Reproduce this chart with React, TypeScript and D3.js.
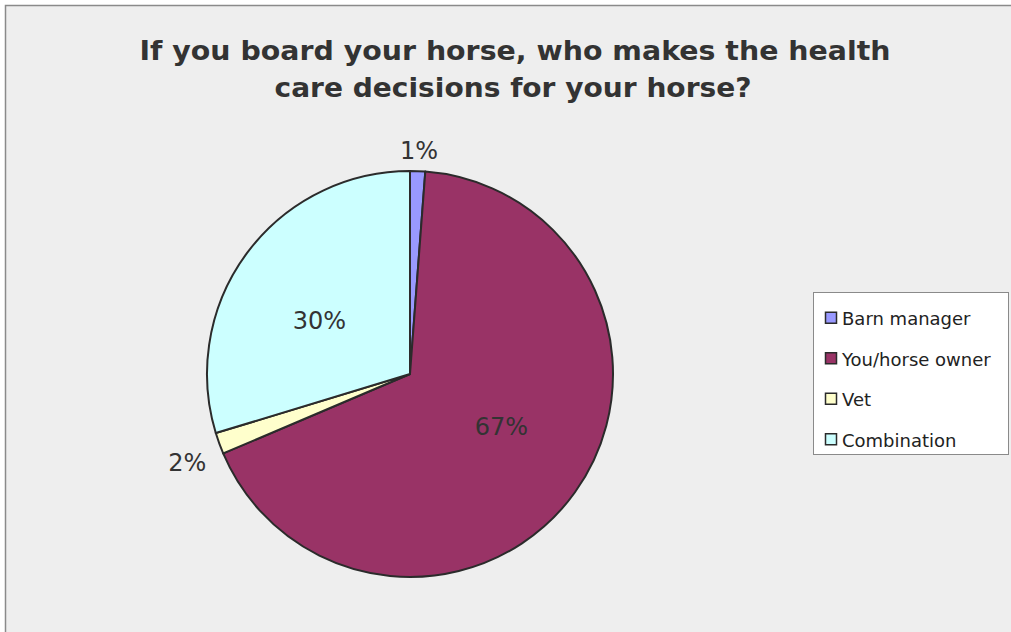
import React from "react";
import * as d3 from "d3";

const titleLines = ["If you board your horse, who makes the health", "care decisions for your horse?"];
const categories = ["Barn manager", "You/horse owner", "Vet", "Combination"];
const values = [1.2, 67.4, 1.7, 29.7];
const valueLabels = ["1%", "67%", "2%", "30%"];
const colors = ["#9999FF", "#993366", "#FFFFCC", "#CCFFFF"];

const W = 1011;
const H = 632;
const cx = 410;
const cy = 374;
const R = 203;

export default function App() {
  const pie = d3.pie<number>().sort(null).value((d) => d)(values);
  const arc = d3.arc<d3.PieArcDatum<number>>().innerRadius(0).outerRadius(R);
  const total = d3.sum(values);

  const legendX = 813.5;
  const legendY = 292.5;
  const legendW = 195;
  const legendH = 162;
  const rowY = d3.scaleBand<number>().domain(d3.range(categories.length)).range([legendY + 6, legendY + legendH + 6]);

  return (
    <svg width={W} height={H} style={{ position: "absolute", left: 0, top: 0, display: "block" }}>
      <rect x={0} y={0} width={W} height={H} fill="#ffffff" />
      <rect x={5.5} y={5.5} width={W + 10} height={H + 10} fill="#EEEEEE" stroke="#8a8a8a" strokeWidth={1.5} />
      <g fontFamily="'DejaVu Sans', Verdana, sans-serif" fontWeight="bold" fill="#333333" fontSize={27} textAnchor="middle">
        <text x={515} y={60} textLength={751} lengthAdjust="spacingAndGlyphs">{titleLines[0]}</text>
        <text x={513} y={97} textLength={477} lengthAdjust="spacingAndGlyphs">{titleLines[1]}</text>
      </g>
      <g transform={`translate(${cx},${cy})`}>
        {pie.map((p, i) => (
          <path key={i} d={arc(p) || ""} fill={colors[i]} stroke="#2b2b2b" strokeWidth={2} strokeLinejoin="round" />
        ))}
        {pie.map((p, i) => {
          const frac = p.value / total;
          const mid = (p.startAngle + p.endAngle) / 2;
          if (frac > 0.05) {
            const a = mid - 0.1;
            const r = R * 0.52;
            const x = Math.sin(a) * r;
            const y = -Math.cos(a) * r;
            return (
              <text key={i} x={x} y={y} dy="0.36em" textAnchor="middle" fontFamily="'DejaVu Sans', Verdana, sans-serif" fontSize={24} fill="#333333">
                {valueLabels[i]}
              </text>
            );
          }
          const s = Math.sin(mid);
          const c = -Math.cos(mid);
          const r = R + 14;
          const px = s * r;
          const py = c * r;
          const w = 40;
          const h = 24;
          const x = px + s * w * 0.5;
          const y = py + c * h * 0.5 + (c < 0 ? 5 : 10);
          return (
            <text key={i} x={x} y={y} dy="0.36em" textAnchor="middle" fontFamily="'DejaVu Sans', Verdana, sans-serif" fontSize={24} fill="#333333">
              {valueLabels[i]}
            </text>
          );
        })}
      </g>
      <rect x={legendX} y={legendY} width={legendW} height={legendH} fill="#ffffff" stroke="#8a8a8a" strokeWidth={1} />
      {categories.map((c, i) => {
        const yc = (rowY(i) as number) + rowY.bandwidth() / 2;
        return (
          <g key={c}>
            <rect x={825.5} y={yc - 6.5} width={11} height={11} fill={colors[i]} stroke="#2b2b2b" strokeWidth={1.5} />
            <text x={842} y={yc} dy="0.36em" fontFamily="'DejaVu Sans', Verdana, sans-serif" fontSize={18} fill="#222222">
              {c}
            </text>
          </g>
        );
      })}
    </svg>
  );
}
